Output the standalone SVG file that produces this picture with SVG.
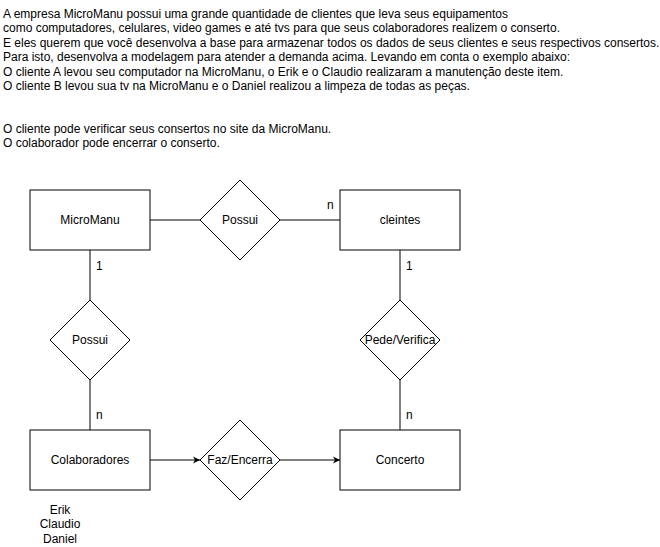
<svg xmlns="http://www.w3.org/2000/svg" width="660" height="547" viewBox="0 0 660 547">
<style>
text{font-family:"Liberation Sans",Arial,sans-serif;font-size:12px;fill:#000}
.c{text-anchor:middle;dominant-baseline:central}
.s{fill:#fff;stroke:#000;stroke-width:1}
.e{stroke:#000;stroke-width:1;fill:none}
</style>
<defs>
<marker id="a" markerWidth="8" markerHeight="8" refX="7" refY="4" orient="auto" markerUnits="userSpaceOnUse">
<path d="M0,0.5 L7,4 L0,7.5 L2,4 Z" fill="#000"/>
</marker>
</defs>
<rect width="660" height="547" fill="#fff"/>
<g id="desc">
<text x="3" y="18">A empresa MicroManu possui uma grande quantidade de clientes que leva seus equipamentos</text>
<text x="3" y="32.4">como computadores, celulares, video games e até tvs para que seus colaboradores realizem o conserto.</text>
<text x="3" y="46.8">E eles querem que você desenvolva a base para armazenar todos os dados de seus clientes e seus respectivos consertos.</text>
<text x="3" y="61.2">Para isto, desenvolva a modelagem para atender a demanda acima. Levando em conta o exemplo abaixo:</text>
<text x="3" y="75.6">O cliente A levou seu computador na MicroManu, o Erik e o Claudio realizaram a manutenção deste item.</text>
<text x="3" y="90">O cliente B levou sua tv na MicroManu e o Daniel realizou a limpeza de todas as peças.</text>
<text x="3" y="133">O cliente pode verificar seus consertos no site da MicroManu.</text>
<text x="3" y="147.4">O colaborador pode encerrar o conserto.</text>
</g>
<g id="connectors">
<line class="e" x1="150" y1="220" x2="200" y2="220"/>
<line class="e" x1="280" y1="220" x2="340" y2="220"/>
<line class="e" x1="90" y1="250" x2="90" y2="300"/>
<line class="e" x1="90" y1="380" x2="90" y2="430"/>
<line class="e" x1="400" y1="250" x2="400" y2="300"/>
<line class="e" x1="400" y1="380" x2="400" y2="430"/>
<line class="e" x1="150" y1="460" x2="200" y2="460" marker-end="url(#a)"/>
<line class="e" x1="280" y1="460" x2="340" y2="460" marker-end="url(#a)"/>
<text x="327" y="209">n</text>
<text x="96" y="270">1</text>
<text x="406" y="270">1</text>
<text x="96" y="419">n</text>
<text x="406" y="419">n</text>
</g>
<g id="micromanu"><rect class="s" x="30" y="190" width="120" height="60"/><text class="c" x="90" y="220">MicroManu</text></g>
<g id="possui1"><path class="s" d="M240,180 L280,220 L240,260 L200,220 Z"/><text class="c" x="240" y="220">Possui</text></g>
<g id="cleintes"><rect class="s" x="340" y="190" width="120" height="60"/><text class="c" x="400" y="220">cleintes</text></g>
<g id="possui2"><path class="s" d="M90,300 L130,340 L90,380 L50,340 Z"/><text class="c" x="90" y="340">Possui</text></g>
<g id="pede"><path class="s" d="M400,300 L440,340 L400,380 L360,340 Z"/><text class="c" x="400" y="340">Pede/Verifica</text></g>
<g id="colaboradores"><rect class="s" x="30" y="430" width="120" height="60"/><text class="c" x="90" y="460">Colaboradores</text></g>
<g id="faz"><path class="s" d="M240,420 L280,460 L240,500 L200,460 Z"/><text class="c" x="240" y="460">Faz/Encerra</text></g>
<g id="concerto"><rect class="s" x="340" y="430" width="120" height="60"/><text class="c" x="400" y="460">Concerto</text></g>
<g id="nomes">
<text class="c" x="60" y="510">Erik</text>
<text class="c" x="60" y="524">Claudio</text>
<text class="c" x="60" y="539">Daniel</text>
</g>
</svg>
